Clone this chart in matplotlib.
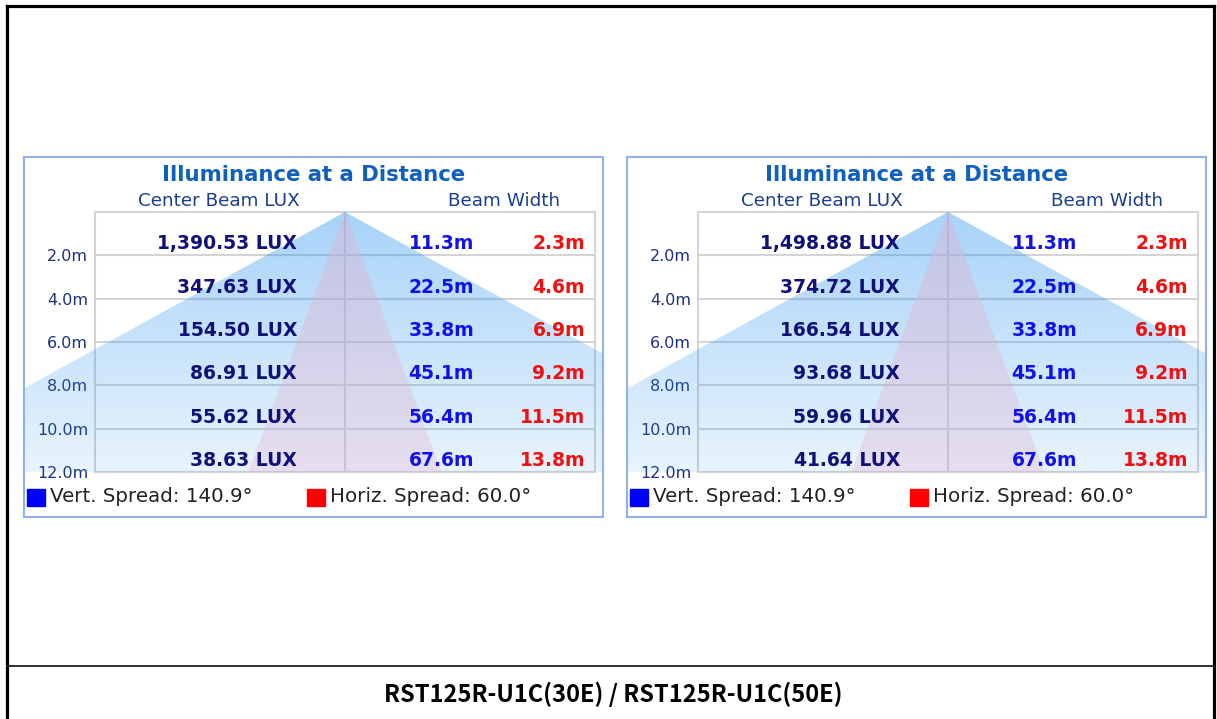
import numpy as np
import matplotlib
matplotlib.use("Agg")
import matplotlib.pyplot as plt
from matplotlib.patches import Polygon, Rectangle
from matplotlib.lines import Line2D
from matplotlib.transforms import Bbox, TransformedBbox

# data
distances = [2, 4, 6, 8, 10, 12]
lux_30e = [1390.53, 347.63, 154.50, 86.91, 55.62, 38.63]
lux_50e = [1498.88, 374.72, 166.54, 93.68, 59.96, 41.64]
vert_width = [11.3, 22.5, 33.8, 45.1, 56.4, 67.6]
horiz_width = [2.3, 4.6, 6.9, 9.2, 11.5, 13.8]
vert_spread = 140.9
horiz_spread = 60.0
panel_lux = [lux_30e, lux_50e]
bottom_title = "RST125R-U1C(30E) / RST125R-U1C(50E)"

W, H = 1217, 719
fig = plt.figure(figsize=(W / 100, H / 100), dpi=100)


def px_rect(x0, y0, x1, y1):
    # pixel box (top-left origin) -> figure fraction [l, b, w, h]
    return [x0 / W, 1 - y1 / H, (x1 - x0) / W, (y1 - y0) / H]


def gradient(rgb, a_top, a_bot):
    g = np.zeros((256, 1, 4))
    g[..., :3] = np.array(rgb) / 255.0
    g[:, 0, 3] = np.linspace(a_top, a_bot, 256)
    return g


navy = "#10107a"
grid_col = "#d4d4d4"

for i, lux in enumerate(panel_lux):
    off = 603 * i
    pl, pt, pr, pb = 24 + off, 157, 603 + off, 517

    ax = fig.add_axes(px_rect(95 + off, 212, 595 + off, 472))
    ax.set_axisbelow(True)

    # clip box = the whole panel, so the wide beam spills past the grid
    pr_f = px_rect(pl, pt, pr, pb)
    clip_box = TransformedBbox(Bbox.from_bounds(*pr_f), fig.transFigure)

    d_max = distances[-1]
    vert_tri = [(0, 0), (-vert_width[-1] / 2, d_max), (vert_width[-1] / 2, d_max)]
    horiz_tri = [(0, 0), (-horiz_width[-1] / 2, d_max), (horiz_width[-1] / 2, d_max)]

    im1 = ax.imshow(gradient((45, 150, 240), 0.42, 0.11), extent=(-40, 40, d_max, 0),
                    aspect="auto", zorder=1, interpolation="bilinear")
    im1.set_clip_path(Polygon(vert_tri, closed=True, transform=ax.transData))
    im1.set_clip_box(clip_box)

    im2 = ax.imshow(gradient((228, 175, 205), 0.42, 0.3), extent=(-40, 40, d_max, 0),
                    aspect="auto", zorder=1.1, interpolation="bilinear")
    im2.set_clip_path(Polygon(horiz_tri, closed=True, transform=ax.transData))
    im2.set_clip_box(clip_box)

    ax.set_xlim(-17.86, 17.86)
    ax.set_ylim(d_max, 0)

    ax.set_yticks(distances)
    ax.set_yticklabels([f"{d:.1f}m" for d in distances])
    ax.set_xticks([0])
    ax.tick_params(axis="x", length=0, labelbottom=False)
    ax.tick_params(axis="y", length=0, pad=5, labelsize=11.5, labelcolor="#1c2f80")
    ax.grid(True, color=grid_col, lw=1.5)
    for s in ax.spines.values():
        s.set_color(grid_col)
        s.set_linewidth(1.5)
        s.set_zorder(0.5)

    # row values
    for d, lx, vw, hw in zip(distances, lux, vert_width, horiz_width):
        y = d - 0.27
        ax.text(0.404, y, f"{lx:,.2f} LUX", transform=ax.get_yaxis_transform(),
                ha="right", va="baseline", fontsize=13.5, fontweight="bold", color=navy, zorder=5)
        ax.text(0.758, y, f"{vw:.1f}m", transform=ax.get_yaxis_transform(),
                ha="right", va="baseline", fontsize=13.5, fontweight="bold", color="#1010ee", zorder=5)
        ax.text(0.98, y, f"{hw:.1f}m", transform=ax.get_yaxis_transform(),
                ha="right", va="baseline", fontsize=13.5, fontweight="bold", color="#f01010", zorder=5)

    # headers
    ax.text(0.248, 1.042, "Center Beam LUX", transform=ax.transAxes, ha="center", va="center",
            fontsize=13.2, color="#1a3d8f")
    ax.text(0.818, 1.042, "Beam Width", transform=ax.transAxes, ha="center", va="center",
            fontsize=13.2, color="#1a3d8f")
    fig.text((pl + pr) / 2 / W, 1 - 175 / H, "Illuminance at a Distance", ha="center", va="center",
             fontsize=15.3, fontweight="bold", color="#1060c0")

    # legend
    ax.add_patch(Rectangle((-0.136, -0.131), 0.036, 0.065, transform=ax.transAxes,
                           color="#0000ff", clip_on=False))
    ax.text(-0.09, -0.096, f"Vert. Spread: {vert_spread:.1f}°", transform=ax.transAxes,
            ha="left", va="center", fontsize=14.3, color="#222222")
    ax.add_patch(Rectangle((0.424, -0.131), 0.036, 0.065, transform=ax.transAxes,
                           color="#ff0000", clip_on=False))
    ax.text(0.47, -0.096, f"Horiz. Spread: {horiz_spread:.1f}°", transform=ax.transAxes,
            ha="left", va="center", fontsize=14.3, color="#222222")

    # panel border
    fig.patches.append(Rectangle((pr_f[0], pr_f[1]), pr_f[2], pr_f[3], transform=fig.transFigure,
                                 fill=False, ec="#8fb2ee", lw=1.5))

# outer frame
fig.lines.append(Line2D([7 / W, 1214 / W], [1 - 6 / H, 1 - 6 / H], transform=fig.transFigure,
                        color="black", lw=2.3))
fig.lines.append(Line2D([7 / W, 7 / W], [0, 1 - 6 / H], transform=fig.transFigure,
                        color="black", lw=2.3))
fig.lines.append(Line2D([1214 / W, 1214 / W], [0, 1 - 6 / H], transform=fig.transFigure,
                        color="black", lw=2.3))
fig.lines.append(Line2D([7 / W, 1214 / W], [1 - 666 / H, 1 - 666 / H], transform=fig.transFigure,
                        color="#222222", lw=1.3))

fig.text(613 / W, 1 - 694 / H, bottom_title, ha="center", va="center", fontsize=17,
         fontweight="bold", family=["Noto Sans CJK KR", "DejaVu Sans"], color="black")

fig.savefig("out.png", dpi=100)
